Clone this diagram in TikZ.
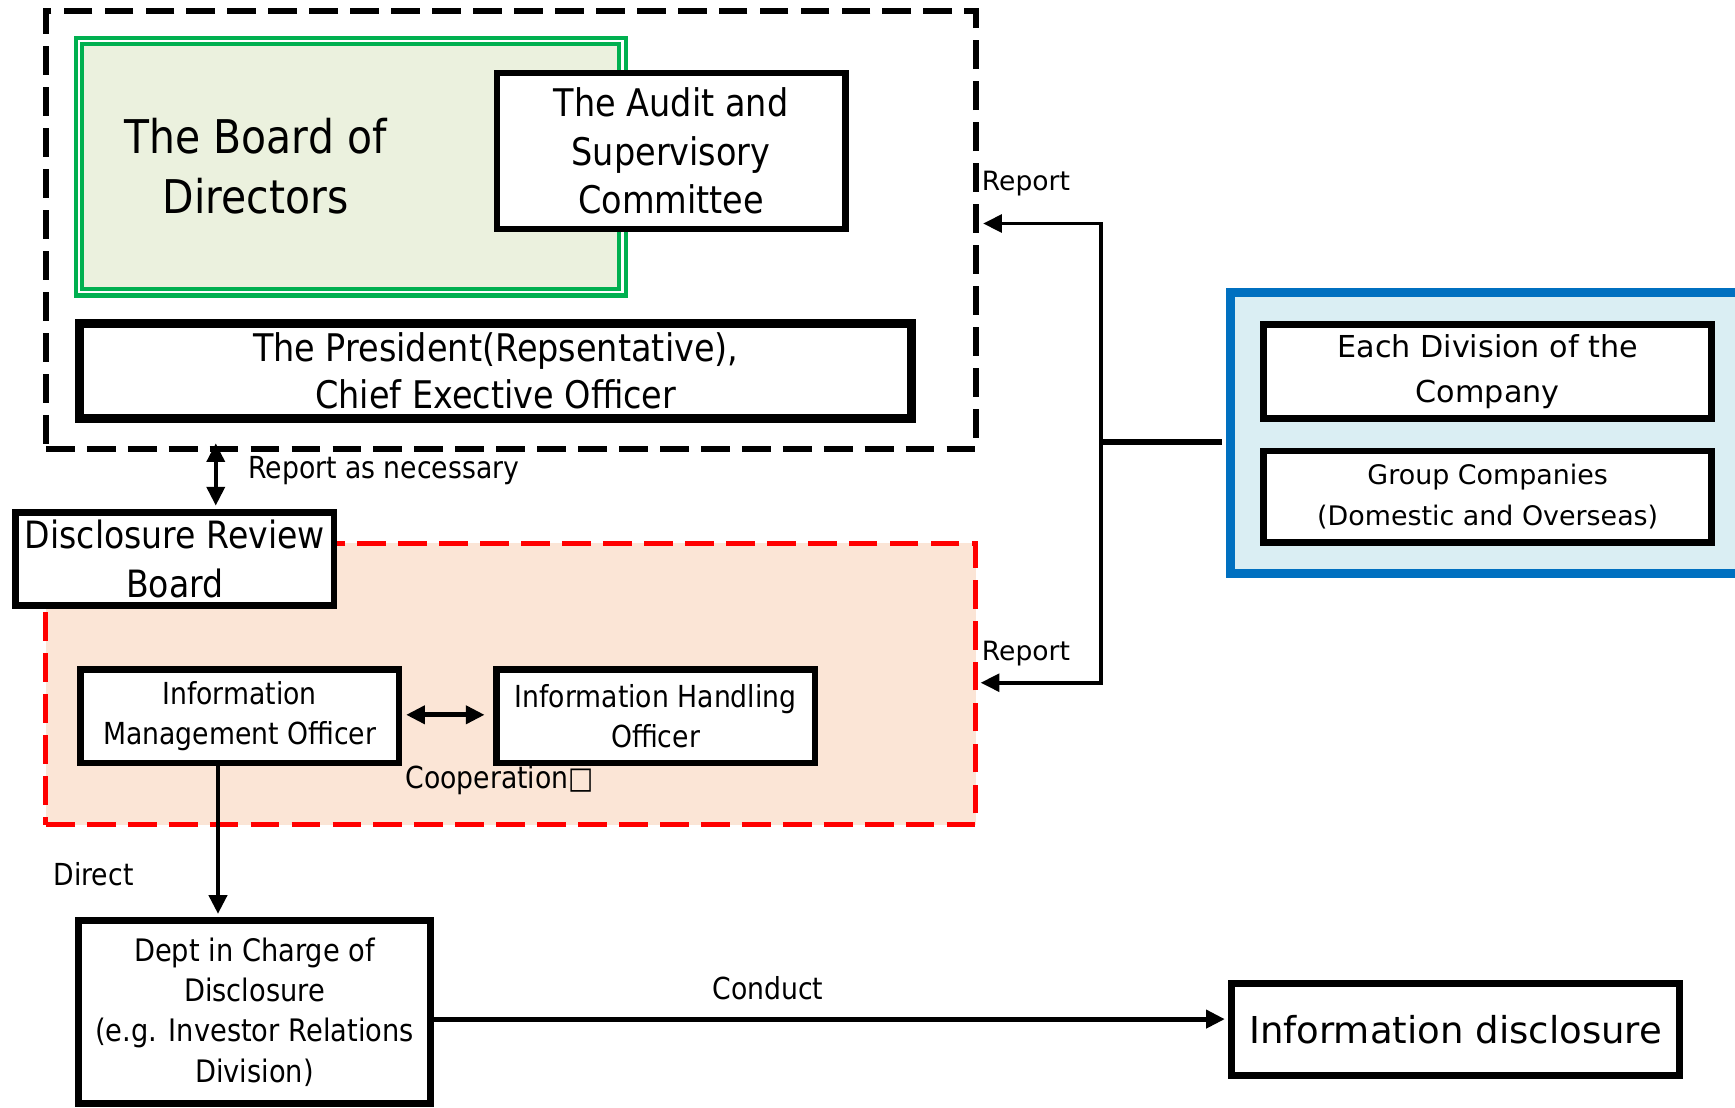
\documentclass[tikz,border=0pt]{standalone}
\usepackage{fontspec}
\setmainfont{DejaVu Sans}
\newfontfamily\tah[FakeStretch=0.88]{DejaVu Sans}
\newfontfamily\ver{DejaVu Sans}
\usetikzlibrary{arrows.meta}
\definecolor{grn}{HTML}{00B050}
\definecolor{grnfill}{HTML}{EBF1DE}
\definecolor{redfill}{HTML}{FBE5D6}
\definecolor{bluel}{HTML}{0070C0}
\definecolor{bluefill}{HTML}{DAEEF3}
\begin{document}
\begin{tikzpicture}[x=0.5pt,y=-0.5pt,
  box/.style={draw=black, line width=3pt, fill=white, rectangle, inner sep=0pt, align=center},
  plainbox/.style={rectangle, inner sep=0pt},
  dashbox/.style={plainbox, dash pattern=on 13pt off 5.5pt},
  arr/.style={line width=2.2pt, -{Triangle[length=8.5pt,width=8pt]}},
  arrboth/.style={line width=2.2pt, {Triangle[length=8.5pt,width=8pt]}-{Triangle[length=8.5pt,width=8pt]}},
  lbl/.style={inner sep=0pt, font=\tah\fontsize{13.7pt}{16pt}\selectfont},
  replbl/.style={inner sep=0pt, anchor=west, font=\ver\fontsize{12pt}{14pt}\selectfont}
]
\useasboundingbox (0,0) rectangle (1568,1001);
\clip (0,0) rectangle (1568,1001);

% top dashed group
\node[dashbox, draw=black, line width=2.5pt, minimum width=420.25pt, minimum height=198pt] (top) at (461.75,208) {};
\node[plainbox, draw=grn, line width=1.95pt, fill=white, minimum width=248.6pt, minimum height=116.35pt] (boardout) at (317.4,150.65) {};
\node[plainbox, draw=grn, line width=1.8pt, fill=grnfill, minimum width=242.7pt, minimum height=110.4pt] (board) at (316.8,150.6) {};
\node[align=center, inner sep=0pt, font=\tah\fontsize{21pt}{27pt}\selectfont] (boardtxt) at (231,150) {The Board of\\Directors};
\node[box, minimum width=157.5pt, minimum height=70.5pt, font=\tah\fontsize{17.2pt}{22pt}\selectfont] (audit) at (606.5,136.5) {The Audit and\\Supervisory\\Committee};
\node[box, line width=4pt, minimum width=376pt, minimum height=43pt, font=\tah\fontsize{17.2pt}{21.5pt}\selectfont] (pres) at (448,335) {The President(Repsentative),\\Chief Exective Officer};

% red dashed group
\node[dashbox, draw=red, fill=redfill, line width=2.25pt, minimum width=420.25pt, minimum height=127.25pt] (grp) at (461.75,618.25) {};
\node[box, minimum width=144pt, minimum height=42pt, font=\tah\fontsize{17pt}{22pt}\selectfont] (drb) at (158,505) {Disclosure Review\\Board};
\node[box, minimum width=144pt, minimum height=42.25pt, font=\tah\fontsize{13.7pt}{18pt}\selectfont] (imo) at (216.5,647.25) {Information\\Management Officer};
\node[box, minimum width=144pt, minimum height=42.25pt, font=\tah\fontsize{13.7pt}{18pt}\selectfont] (iho) at (592.5,647.25) {Information Handling\\Officer};

% bottom
\node[box, minimum width=159pt, minimum height=82.5pt, font=\tah\fontsize{14pt}{18.2pt}\selectfont] (dept) at (230,914.5) {Dept in Charge of\\Disclosure\\(e.g. Investor Relations\\Division)};
\node[box, minimum width=202.5pt, minimum height=41.5pt, font=\ver\fontsize{16.75pt}{20pt}\selectfont] (info) at (1315.5,930.5) {Information disclosure};

% blue group
\node[plainbox, draw=bluel, fill=bluefill, line width=4pt, minimum width=254pt, minimum height=127pt] (blue) at (1366,391.5) {};
\node[box, minimum width=202.5pt, minimum height=42.25pt, font=\ver\fontsize{13.65pt}{20.5pt}\selectfont] (each) at (1344.5,335.75) {Each Division of the\\Company};
\node[box, minimum width=202.5pt, minimum height=41.5pt, font=\ver\fontsize{12.15pt}{18.5pt}\selectfont] (grpco) at (1344.5,449) {Group Companies\\(Domestic and Overseas)};

% labels
\node[replbl] (rep1) at (887,166) {Report};
\node[replbl] (rep2) at (887,591) {Report};
\node[lbl, anchor=west] (ran) at (224,425) {Report as necessary};
\node[lbl, anchor=west] (coop) at (366,705) {Cooperation□};
\node[lbl, anchor=west] (dir) at (48,790) {Direct};
\node[lbl] (cond) at (694,893) {Conduct};

% connectors
\coordinate (jt) at (995,202);
\coordinate (jm) at (995,399.5);
\coordinate (jb) at (995,617);
\draw[line width=1.75pt, line cap=rect] (jt) -- (jb);
\draw[line width=3pt, shorten <=2pt] (blue.west |- jm) -- (jm);
\draw[arr, line width=1.75pt, shorten >=2pt] (jt) -- (top.east |- jt);
\draw[arr, line width=1.75pt, shorten >=1pt] (jb) -- (grp.east |- jb);

\coordinate (rx) at (195,0);
\draw[arrboth, line width=2pt, shorten <=-4pt, shorten >=1.5pt] (rx |- top.south) -- (rx |- drb.north);
\coordinate (dx) at (197,0);
\draw[arr, shorten >=1.5pt] (dx |- imo.south) -- (dx |- dept.north);
\coordinate (cy) at (0,921);
\draw[arr, shorten >=1.5pt] (dept.east |- cy) -- (info.west |- cy);
\coordinate (cp) at (0,646);
\draw[arrboth, shorten <=1.75pt, shorten >=3.75pt] (imo.east |- cp) -- (iho.west |- cp);
\end{tikzpicture}
\end{document}
